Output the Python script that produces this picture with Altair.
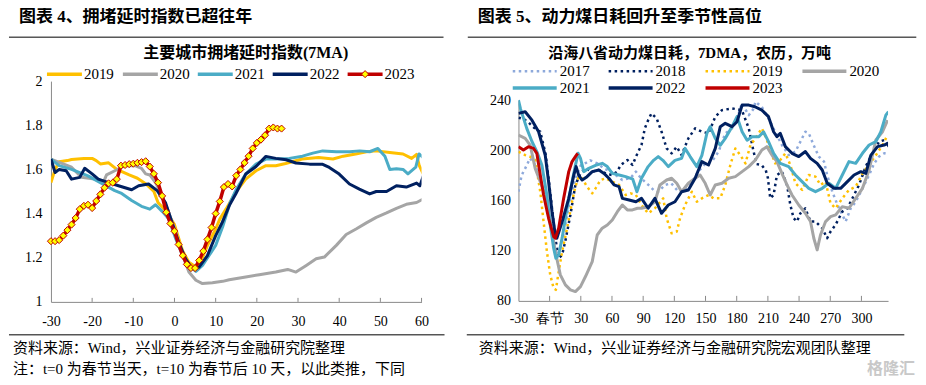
import altair as alt
import pandas as pd

# ---------------- LEFT PANEL DATA (congestion delay index, 7MA) ----------------
L2019_X = [-30, -29, -28, -26, -25, -22, -20, -19, -18, -16, -14, -11, -9, -7, -5, -4, -2, 0, 2, 3.5, 5, 6, 8, 10, 11, 12.5,
           15, 17.3, 19.8, 22.2, 24.6, 27, 31, 35, 38.5, 41, 44, 46.6, 49, 52.3, 55.5, 57.6, 58.8, 59.4, 60.4]
L2019_Y = [1.54, 1.60, 1.635, 1.64, 1.645, 1.65, 1.65, 1.64, 1.625, 1.63, 1.60, 1.575, 1.56, 1.535, 1.50, 1.45, 1.41, 1.35,
           1.23, 1.18, 1.16, 1.165, 1.255, 1.33, 1.375, 1.42, 1.50, 1.556, 1.594, 1.617, 1.617, 1.627, 1.647, 1.654, 1.647,
           1.66, 1.67, 1.68, 1.684, 1.677, 1.67, 1.65, 1.668, 1.62, 1.58]

L2020_X = [-30, -25, -22.6, -19.4, -17.3, -16.5, -14.5, -12, -9.6, -8, -7, -6, -4.6, -3, -1.4, 0.3, 2, 3.5, 5.2, 6.8, 9.2,
           11.7, 13.3, 17.3, 20.6, 24.6, 27.5, 29.5, 32, 34.4, 36.4, 39.3, 41.7, 44.1, 46.6, 49, 51.5, 53.9, 56.3, 58.8, 60.4]
L2020_Y = [1.647, 1.61, 1.565, 1.556, 1.54, 1.575, 1.594, 1.617, 1.617, 1.605, 1.58, 1.575, 1.54, 1.48, 1.406, 1.316, 1.21,
           1.135, 1.098, 1.083, 1.087, 1.093, 1.10, 1.113, 1.123, 1.135, 1.147, 1.135, 1.165, 1.195, 1.203, 1.256, 1.305,
           1.33, 1.358, 1.383, 1.403, 1.424, 1.442, 1.45, 1.466]

L2021_X = [-30, -28, -25, -21, -18, -14.5, -13, -10.4, -8, -6, -4.6, -3, -1.4, 0.3, 2, 3.5, 5.2, 6.8, 8.4, 10, 11.7, 13.5,
           15, 17.3, 19.8, 22.2, 24.6, 27.9, 31.1, 33.6, 36, 39.3, 42.5, 45, 47.4, 49.4, 51.1, 52.3, 53.9, 55.5, 56.7, 58.6,
           59.4, 60.4]
L2021_Y = [1.647, 1.617, 1.60, 1.571, 1.54, 1.504, 1.493, 1.459, 1.433, 1.42, 1.44, 1.41, 1.376, 1.286, 1.21, 1.165, 1.138,
           1.165, 1.21, 1.256, 1.34, 1.45, 1.51, 1.579, 1.624, 1.647, 1.647, 1.65, 1.66, 1.674, 1.684, 1.68, 1.68, 1.684,
           1.68, 1.695, 1.66, 1.60, 1.603, 1.60, 1.58, 1.61, 1.67, 1.654]

L2022_X = [-30, -29, -28, -26.3, -25, -23, -21.8, -20, -18.5, -16, -13.6, -10.4, -8.7, -6.3, -4.2, -2.2, -0.6, 1, 2.7, 4.3,
           6, 8, 10, 11.6, 13.3, 14.9, 17.3, 19.8, 22.2, 24.6, 27.1, 29.5, 32.8, 36, 37.6, 40, 42.5, 44.9, 47.4, 49, 51.5,
           53.9, 56.3, 58.8, 59.6, 60.5]
L2022_Y = [1.647, 1.586, 1.60, 1.594, 1.556, 1.564, 1.605, 1.58, 1.556, 1.54, 1.526, 1.508, 1.526, 1.534, 1.504, 1.45, 1.36,
           1.27, 1.195, 1.15, 1.158, 1.21, 1.30, 1.36, 1.436, 1.49, 1.579, 1.613, 1.659, 1.65, 1.644, 1.629, 1.624, 1.623,
           1.609, 1.579, 1.534, 1.511, 1.489, 1.50, 1.50, 1.526, 1.52, 1.538, 1.526, 1.574]

L2023_X = list(range(-30, 27))
L2023_Y = [1.275, 1.275, 1.28, 1.30, 1.325, 1.35, 1.38, 1.42, 1.435, 1.44,
           1.425, 1.457, 1.487, 1.517, 1.537, 1.54, 1.556, 1.617, 1.62, 1.624,
           1.626, 1.63, 1.633, 1.637, 1.613, 1.58, 1.54, 1.48, 1.406, 1.355,
           1.32, 1.26, 1.21, 1.17, 1.153, 1.153, 1.188, 1.23, 1.283, 1.337,
           1.40, 1.455, 1.52, 1.534, 1.523, 1.572, 1.60, 1.63, 1.66, 1.695,
           1.72, 1.735, 1.755, 1.785, 1.79, 1.785, 1.785]

LEFT_X_TICKS = [-30, -20, -10, 0, 10, 20, 30, 40, 50, 60]
LEFT_Y_TICKS = [1, 1.2, 1.4, 1.6, 1.8, 2]
LEFT_YEARS = ["2019", "2020", "2021", "2022", "2023"]

# ---------------- RIGHT PANEL DATA (coastal 8 provinces coal burn, 7DMA, lunar) ----------------
R2017_X = [-30, -27, -22, -19, -15, -10, -5, 0, 4, 7, 10, 15, 20, 25, 30, 35, 39, 46, 52, 59, 63.5, 70, 78, 83, 88, 95,
           100, 104.5, 111, 117, 124, 130, 137, 143, 150, 156, 162.6, 169, 175.5, 180, 185, 191.6, 196.5, 198, 204,
           210.6, 217, 223.5, 230, 236.5, 241.3, 246, 249.4, 254, 259, 264, 267, 272, 277, 281.6, 284.8, 289.7, 294.5,
           301, 307.4, 312.3, 317, 322, 325.5]
R2017_Y = [167, 180, 188, 193.6, 190, 180, 165, 145, 125, 117, 120, 140, 162, 178, 188, 190, 192, 189.6, 185.6, 183,
           180.3, 176.3, 178, 183, 177.7, 172.4, 168.4, 167, 172.4, 173.7, 167, 168.4, 175, 183, 189.6, 191, 199, 213.5,
           217.5, 224, 237.4, 228, 233.4, 238.7, 234.7, 225.4, 214.8, 204.2, 196.2, 199, 206.9, 214.8, 213.5, 204.2, 195,
           191, 180.3, 167, 156.4, 148.5, 143.2, 153.8, 159, 169.7, 180.3, 189.6, 195, 197.6, 197.6]

R2018_X = [-30, -25, -20, -15, -12, -9, -4, -1, 2.3, 5.5, 8.7, 12, 15, 20, 24.8, 29.7, 34.5, 41, 47.4, 54, 60, 65, 68.4,
           74.8, 79.7, 84.5, 88.4, 91.6, 94.8, 98, 103, 107.7, 112.6, 117.4, 122.3, 127, 133.5, 140, 146.5, 153, 159.4,
           165.8, 175.5, 185, 191.6, 196, 199, 204, 208, 210, 212.3, 215.5, 218.7, 223.5, 228.4, 231.6, 234.8, 238,
           241.3, 246, 251, 255.8, 262.3, 267, 270.3, 275, 281.6, 286.5, 291.3, 297.7, 304, 310.6, 317, 322, 325.5]
R2018_Y = [226, 225, 222, 218, 216, 214.8, 197.6, 177.7, 153.8, 130, 114, 116.6, 127.2, 148.5, 172.4, 181.6, 185.6, 183,
           184.3, 181.6, 180.3, 183, 188.3, 192.3, 188.3, 197.6, 204.2, 217.5, 224, 229.4, 225.4, 214.8, 201.5, 197.6,
           202.9, 196.2, 209.5, 217.5, 214.8, 213.5, 226.8, 232, 233.4, 232, 217.5, 200, 189, 188.3, 184, 178, 161.7,
           164.4, 180.3, 183, 172.4, 156.4, 145.8, 143.2, 149.8, 153.8, 143.2, 143.2, 137.9, 129.9, 135.2, 140.5, 151.1,
           153.8, 161.7, 172.4, 186.9, 197.6, 206.9, 208.2, 204.2]

R2019_X = [-30, -23.5, -18.7, -13.9, -9, -5.8, -2.6, 0.6, 3.9, 6, 8, 12, 16.8, 21.6, 24.8, 28, 31.3, 36, 41, 44.2, 49, 54,
           60.3, 66.8, 73.2, 78, 83, 88.4, 94.8, 101.3, 109.3, 112.6, 117.4, 122.3, 125.5, 130.3, 136.8, 141.6, 146.5,
           153, 157.7, 164.2, 169, 173.9, 178.7, 183.5, 188.4, 193.2, 198, 204.2, 209, 213.9, 217, 221.9, 226.8, 231.6,
           236.5, 243, 249.4, 255.8, 260.6, 265.5, 270.3, 275.2, 281.6, 288, 294.5, 301, 307.4, 314, 320.3, 325.2]
R2019_Y = [198.9, 196.2, 194.9, 192.3, 167, 143, 119.3, 100.7, 90, 88.8, 99.4, 119.3, 137.9, 159, 171, 179, 177.7, 171,
           165.7, 169.7, 176.3, 177.7, 175, 172.4, 164.4, 165.7, 164.4, 156.4, 149.8, 153.8, 161.7, 145.8, 133.9, 135.2,
           145.8, 156.4, 167, 159, 161.7, 164.4, 161.7, 161.7, 172.4, 188.3, 201.5, 196.2, 189.6, 204.2, 209.5, 217.5,
           208.2, 196.2, 189.6, 192.3, 197.6, 188.3, 173.7, 168.4, 180.3, 179, 172.4, 175, 157.7, 153.8, 161.7, 168.4,
           171, 181.6, 188.3, 196.2, 204.2, 212.2]

R2020_X = [-30, -23.5, -18.7, -13.9, -9, -4.2, 0.6, 5.5, 10.3, 15.2, 20, 24.8, 29.7, 34.5, 41, 45.8, 50.6, 55.5, 60.3,
           65.2, 70, 74.8, 79.7, 84.5, 88.4, 94.8, 101.3, 106.1, 112.6, 117.4, 122.3, 127, 133.5, 140, 144.8, 149.7,
           154.5, 159.4, 165.8, 172.3, 178.7, 185.2, 191.6, 198, 204.2, 209, 213.9, 218.7, 223.5, 228.4, 233.2, 239.7,
           246.1, 251, 254.2, 257.4, 260.6, 265.5, 270.3, 275.2, 281.6, 288, 294.5, 301, 307.4, 313.9, 320.3, 325.2]
R2020_Y = [212.2, 209.5, 204.2, 185.6, 175, 164.4, 143.2, 119.3, 100.7, 92.7, 88.8, 87.4, 91.4, 99.4, 111.3, 132.5,
           137.9, 140.5, 144.5, 151.1, 156.4, 152.5, 152.5, 153.8, 153.8, 155, 159, 172.4, 176.3, 177.7, 173.7, 167,
           173.7, 177.7, 180.3, 173.7, 164.4, 172.4, 173.7, 177.7, 179, 183, 187, 192.3, 200.2, 202.9, 196.2, 191,
           181.6, 172.4, 164.4, 156.4, 149.8, 143.2, 129.9, 120.6, 132.5, 143.2, 147.1, 148.5, 155.1, 153.8, 161.7,
           169.7, 184.3, 208.2, 214.8, 224]

R2021_X = [-30, -28, -22, -17, -12.3, -7.4, -2.6, 0.6, 3.9, 6, 8.7, 12, 16.8, 21.6, 24.8, 27.4, 29.7, 32.9, 37.7, 44.2,
           50.6, 55.5, 60.3, 66.8, 73.2, 80, 84, 88.4, 94.8, 100, 104.5, 109, 114.2, 120.6, 127, 130.3, 135.2, 141.6,
           146.5, 151.3, 154.5, 159.4, 164.2, 169, 175.5, 180.3, 185.2, 190, 194.8, 201.3, 205.8, 210.6, 215.5, 221.9,
           230, 236.5, 242.9, 249.4, 255.8, 262.3, 268.7, 275.2, 281.6, 288, 294.5, 301, 307.4, 313.9, 318.7, 323.5, 326]
R2021_Y = [240, 233, 217.5, 207, 199, 188, 164, 140.5, 122, 114, 116.6, 130, 153.8, 175, 188, 197.6, 193.6, 183, 185.6,
           188, 189.6, 187, 181.6, 180.3, 179, 177, 167, 177.7, 187, 192, 195, 192, 187, 192, 193.6, 201.5, 195, 187,
           196, 213.5, 218.8, 209.5, 204, 209.5, 218.8, 226.8, 214.8, 208, 210.8, 210.8, 214.8, 206.9, 197.6, 189.6,
           187, 180.3, 175, 169.7, 167, 169.7, 173.7, 169.7, 180.3, 191, 189.6, 197.6, 204.2, 206.9, 214.8, 228, 230.7]

R2022_X = [-30, -23.5, -17, -10.6, -4.2, -1, 2.3, 5.5, 7, 12, 18.4, 23.2, 25.5, 28, 31.3, 36, 41, 47.4, 52.3, 57, 62,
           66.8, 70, 76.5, 83, 88.4, 94.8, 101.3, 107.7, 114.2, 120.6, 127, 133.5, 140, 146.5, 152.9, 159.4, 164.2, 169,
           175.5, 180.3, 185.2, 191.6, 197.5, 204.2, 210.6, 215.5, 218.7, 221.9, 226.8, 233.2, 239.7, 246.1, 251, 257.4,
           262.3, 267.1, 273.5, 280, 286.5, 292.9, 299.4, 304.2, 309, 315.5, 321.9, 325.2, 326.5]
R2022_Y = [229.4, 230.7, 224, 214.8, 196, 175, 151, 132.5, 130, 143, 161.7, 180, 187, 180, 176.3, 179, 183, 184.3, 181.6,
           177.7, 172.4, 171, 161.7, 160.4, 159, 161.7, 153.8, 161.7, 149.8, 156.4, 159, 167, 168.4, 177.7, 191, 188.3,
           201.5, 218.8, 221.5, 218.8, 222.8, 236, 236, 234.7, 232, 226.8, 214.8, 210.8, 213.5, 202.9, 197.6, 195, 199,
           193.6, 189.6, 184.3, 173.7, 169.7, 169.7, 175, 180.3, 183, 181.6, 196, 202.9, 204.2, 205.5, 202.9]

R2023_X = [-30, -25.2, -20.3, -15.5, -12.3, -9, -5.8, -1, 3.9, 5.5, 8.7, 13.5, 18.4, 21.6, 24.8, 27]
R2023_Y = [202.9, 200.2, 202.9, 201.5, 197.6, 180.3, 164.4, 145.8, 131.2, 130, 137.9, 161.7, 183, 191, 194.9, 197.6]

RIGHT_X_TICKS = [-30, 0, 30, 60, 90, 120, 150, 180, 210, 240, 270, 300]
RIGHT_Y_TICKS = [80, 120, 160, 200, 240]
RIGHT_YEARS = ["2017", "2018", "2019", "2020", "2021", "2022", "2023"]

# ---------------- styling ----------------
GOLD, GRAY, TEAL, NAVY, RED, LBLUE = "#FFC000", "#A5A5A5", "#4BACC6", "#002060", "#C00000", "#8EA9DB"
AX = "#898989"
NUMFONT = "Liberation Serif"
CJK = "Liberation Serif, Noto Sans CJK SC"
DOT = [2.5, 3.5]

LW, LH = 371, 221
RW, RH = 370, 220      # right panel: plot spans 19..220 inside the group (y range below)
R_TOP = 19
BOTTOM = 296           # panel box bottom, relative to plot top


def axis(values, pad, expr=None, fmt=None):
    kw = dict(values=values, ticks=False, tickSize=0, grid=False, domain=True, domainColor=AX, domainWidth=1,
              labelFont=NUMFONT, labelFontSize=14, labelColor="black", labelPadding=pad, labelFlush=False,
              labelOverlap=False, title=None)
    if expr:
        kw["labelExpr"] = expr
    if fmt:
        kw["format"] = fmt
    return alt.Axis(**kw)


def series(xs, ys, sx, sy, ax, ay, color, width, dash=None):
    df = pd.DataFrame({"x": xs, "y": ys})
    kw = dict(color=color, strokeWidth=width, strokeJoin="round", clip=True)
    if dash:
        kw["strokeDash"] = dash
    return alt.Chart(df).mark_line(**kw).encode(
        x=alt.X("x:Q", scale=sx, axis=ax), y=alt.Y("y:Q", scale=sy, axis=ay))


def text(t, x, y, size, align="left", bold=False, font=CJK, color="black"):
    return alt.Chart(pd.DataFrame({"t": [t]})).mark_text(
        align=align, baseline="middle", fontSize=size, font=font, fontWeight="bold" if bold else "normal",
        color=color).encode(text="t:N", x=alt.value(x), y=alt.value(y))


def hrule(x1, x2, y, color="black", width=1, dash=None, opacity=1):
    kw = dict(color=color, strokeWidth=width, opacity=opacity)
    if dash:
        kw["strokeDash"] = dash
    return alt.Chart(pd.DataFrame({"a": [0]})).mark_rule(**kw).encode(
        x=alt.value(x1), x2=alt.value(x2), y=alt.value(y))


def inner_ticks(vals, sx, ax, h, n):
    return alt.Chart(pd.DataFrame({"t": vals})).mark_rule(color=AX, strokeWidth=1).encode(
        x=alt.X("t:Q", scale=sx, axis=ax), y=alt.value(h), y2=alt.value(h - n))


# ================= LEFT =================
sxL = alt.Scale(domain=[-30, 60], nice=False, zero=False)
syL = alt.Scale(domain=[1, 2], nice=False, zero=False)
axL = axis(LEFT_X_TICKS, 13, expr="toString(datum.value)")
ayL = axis(LEFT_Y_TICKS, 9, fmt="~g")

left_layers = [
    series(L2019_X, L2019_Y, sxL, syL, axL, ayL, GOLD, 3),
    series(L2020_X, L2020_Y, sxL, syL, axL, ayL, GRAY, 3),
    series(L2021_X, L2021_Y, sxL, syL, axL, ayL, TEAL, 3),
    series(L2022_X, L2022_Y, sxL, syL, axL, ayL, NAVY, 3),
    series(L2023_X, L2023_Y, sxL, syL, axL, ayL, RED, 3.5),
    alt.Chart(pd.DataFrame({"x": L2023_X, "y": L2023_Y})).mark_point(
        shape="diamond", filled=True, fill="#FFFF00", stroke=RED, strokeWidth=1, size=50, opacity=1).encode(
        x=alt.X("x:Q", scale=sxL, axis=axL), y=alt.Y("y:Q", scale=syL, axis=ayL)),
    inner_ticks(LEFT_X_TICKS[1:], sxL, axL, LH, 4),
]
leg_x1 = [-4, 72, 147, 222, 297]
leg_cols = [GOLD, GRAY, TEAL, NAVY, RED]
for i, yr in enumerate(LEFT_YEARS):
    left_layers.append(hrule(leg_x1[i], leg_x1[i] + 35, -7, color=leg_cols[i], width=3.5))
    left_layers.append(text(yr, leg_x1[i] + 37, -7, 15, font=NUMFONT))
left_layers.append(alt.Chart(pd.DataFrame({"a": [0]})).mark_point(
    shape="diamond", filled=True, fill="#FFFF00", stroke=RED, strokeWidth=1, size=50, opacity=1).encode(
    x=alt.value(314.5), y=alt.value(-7)))
left_layers += [
    text("图表 4、拥堵延时指数已超往年", -32, -64, 17, bold=True),
    hrule(-42, 393, -44),
    text("主要城市拥堵延时指数(7MA)", 195, -28, 16, align="center", bold=True),
    hrule(-42, 394, 254),
    text("资料来源：Wind，兴业证券经济与金融研究院整理", -38, 267, 15),
    text("注：t=0 为春节当天，t=10 为春节后 10 天，以此类推，下同", -38, 288, 15),
    hrule(-42, 413, -72.5, opacity=0),
    hrule(-42, 413, BOTTOM, opacity=0),
]
left = alt.layer(*left_layers).properties(width=LW, height=LH)

# ================= RIGHT =================
sxR = alt.Scale(domain=[-30, 325.6], nice=False, zero=False)
syR = alt.Scale(domain=[80, 240], nice=False, zero=False, range=[RH, R_TOP])
axR = axis(RIGHT_X_TICKS, 11, expr="datum.value === 0 ? '春节' : toString(datum.value)")
ayR = axis(RIGHT_Y_TICKS, 8, fmt="d")

right_layers = [
    series(R2017_X, R2017_Y, sxR, syR, axR, ayR, LBLUE, 2.5, dash=DOT),
    series(R2018_X, R2018_Y, sxR, syR, axR, ayR, NAVY, 2.5, dash=DOT),
    series(R2019_X, R2019_Y, sxR, syR, axR, ayR, GOLD, 2.5, dash=DOT),
    series(R2020_X, R2020_Y, sxR, syR, axR, ayR, GRAY, 3),
    series(R2021_X, R2021_Y, sxR, syR, axR, ayR, TEAL, 3),
    series(R2022_X, R2022_Y, sxR, syR, axR, ayR, NAVY, 3),
    series(R2023_X, R2023_Y, sxR, syR, axR, ayR, RED, 3),
    inner_ticks(RIGHT_X_TICKS[1:], sxR, axR, RH, 5),
]
rleg_x1 = [-5.7, 90.3, 187.3, 284.3, -5.7, 90.3, 187.3]
rleg_y = [-10, -10, -10, -10, 7, 7, 7]
rleg_cols = [LBLUE, NAVY, GOLD, GRAY, TEAL, NAVY, RED]
rleg_dash = [DOT, DOT, DOT, None, None, None, None]
for i, yr in enumerate(RIGHT_YEARS):
    right_layers.append(hrule(rleg_x1[i], rleg_x1[i] + 44, rleg_y[i], color=rleg_cols[i],
                              width=2.5 if rleg_dash[i] else 3.5, dash=rleg_dash[i]))
    right_layers.append(text(yr, rleg_x1[i] + 47, rleg_y[i], 15, font=NUMFONT))
right_layers += [
    text("图表 5、动力煤日耗回升至季节性高位", -40.7, -64, 17, bold=True),
    hrule(-50.7, 398.3, -44),
    text("沿海八省动力煤日耗，7DMA，农历，万吨", 171.3, -28, 15, align="center", bold=True),
    hrule(-51.7, 386.3, 254),
    text("资料来源：Wind，兴业证券经济与金融研究院宏观团队整理", -39.7, 267, 15),
    text("格隆汇", 397, 288, 16, align="right", bold=True, color="#C8C8C8"),
    hrule(-54.2, 399.3, -72.5, opacity=0),
    hrule(-54.2, 399.3, BOTTOM, opacity=0),
]
right = alt.layer(*right_layers).properties(width=RW, height=RH)

chart = alt.hconcat(left, right, spacing=0).properties(padding=0).configure_view(stroke=None)
chart.save("out.html", embed_options={"renderer": "svg", "actions": False})
